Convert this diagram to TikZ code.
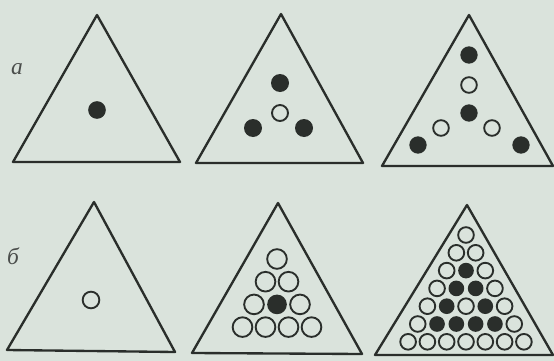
\documentclass[tikz,border=0pt]{standalone}
\usepackage{fontspec}
\newfontfamily\platefont{Liberation Serif}
\usetikzlibrary{positioning}
\definecolor{PlateInk}{HTML}{2A2E2B}
\definecolor{PlatePaper}{HTML}{DAE3DC}

\begin{document}
\begin{tikzpicture}[
      x=0.03cm,y=-0.03cm,
      frame/.style={draw=PlateInk,line width=2pt,line join=round},
      dot/.style={circle,inner sep=0pt,fill=PlateInk},
      ring/.style={circle,inner sep=0pt,draw=PlateInk,line width=1.6pt},
      tag/.style={font=\platefont\itshape\fontsize{20}{24}\selectfont,text=PlateInk!85}
    ]
    \fill[PlatePaper] (0,0) rectangle (554,361);
    \path[use as bounding box] (0,0) rectangle (554,361);
    \node[tag] (tagA) at (17,69) {a};
    \node[tag] (tagB) at (13,256) {б};

    % row a
    \draw[frame] (97,15) -- (180,162) -- (13,162) -- cycle;
    \node[dot,minimum size=5.3mm] (a1) at (97,110) {};

    \draw[frame] (281,14) -- (363,163) -- (196,163) -- cycle;
    \begin{scope}[every node/.append style={minimum size=5.4mm}]
      \node[dot] (a2top) at (280,83) {};
      \node[ring,minimum size=4.8mm] (a2mid) at (280,113) {};
      \node[dot] (a2left) at (253,128) {};
      \node[dot] (a2right) at (304,128) {};
    \end{scope}

    \draw[frame] (469,15) -- (553,166) -- (382,166) -- cycle;
    \begin{scope}[every node/.append style={minimum size=5.2mm}]
      \node[dot] (a3top) at (469,55) {};
      \node[ring,minimum size=4.7mm] (a3up) at (469,85) {};
      \node[dot] (a3mid) at (469,113) {};
      \node[ring,minimum size=4.7mm] (a3left) at (441,128) {};
      \node[ring,minimum size=4.7mm] (a3right) at (492,128) {};
      \node[dot] (a3lo) at (418,145) {};
      \node[dot] (a3ro) at (521,145) {};
    \end{scope}

    % row b
    \draw[frame] (94,202) -- (175,352) -- (7,350) -- cycle;
    \node[ring,minimum size=5mm] (b1) at (91,300) {};

    \draw[frame] (278,203) -- (362,354) -- (192,353) -- cycle;
    \begin{scope}[every node/.append style={minimum size=5.9mm}]
      \foreach \row [count=\r from 0] in {{ring},{ring,ring},{ring,dot,ring},{ring,ring,ring,ring}}
        \foreach \s [count=\k from 0] in \row
          \node[\s] (b2-\r-\k) at ({277+(\k-\r/2)*23},{259+\r*22.7}) {};
    \end{scope}

    \draw[frame] (467,205) -- (553,355) -- (375,355) -- cycle;
    \begin{scope}[every node/.append style={minimum size=4.7mm}]
      \foreach \row [count=\r from 0] in {{ring},{ring,ring},{ring,dot,ring},{ring,dot,dot,ring},
          {ring,dot,ring,dot,ring},{ring,dot,dot,dot,dot,ring},{ring,ring,ring,ring,ring,ring,ring}}
        \foreach \s [count=\k from 0] in \row
          \node[\s] (b3-\r-\k) at ({466+(\k-\r/2)*19.3},{235+\r*17.8}) {};
    \end{scope}
  \end{tikzpicture}
\end{document}
